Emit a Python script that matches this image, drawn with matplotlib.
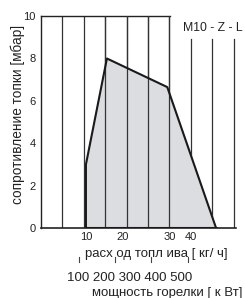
import matplotlib
matplotlib.use("Agg")
import matplotlib.pyplot as plt

plt.rcParams['font.family'] = ['Liberation Sans', 'DejaVu Sans']

# working field of the burner (x in grid units, y in mbar)
field_x = [2.1, 2.1, 3.08, 5.9, 8.18]
field_y = [0, 3.0, 8.0, 6.65, 0]

grid_full = [1, 2, 3, 4, 5, 6]
grid_short = [7, 8, 9]
flow_pos = [2.1, 3.83, 6.03, 7.0]
flow_labels = ["10", "20", "30", "40"]
yticks = [0, 2, 4, 6, 8, 10]
power_tick_pos = [1.78, 3.46, 5.14, 6.87]

fig = plt.figure(figsize=(2.45, 2.98), dpi=100)
ax = fig.add_axes([0.1673, 0.2349, 0.795, 0.711])
ax.set_xlim(0, 9.1)
ax.set_ylim(0, 10)

for x in grid_full:
    ax.plot([x, x], [0, 10], color='#333333', lw=0.9, zorder=1)
for x in grid_short:
    ax.plot([x, x], [0, 8.9], color='#333333', lw=0.9, zorder=1)
ax.plot([0, 6.03], [10, 10], color='#222222', lw=1.0, clip_on=False)
ax.plot([0, 9.1], [0, 0], color='#222222', lw=1.2, clip_on=False)

ax.fill(field_x, field_y, color='#dcdde0', zorder=2)
ax.plot(field_x + [field_x[0]], field_y + [field_y[0]], color='#1a1a1a', lw=1.5, zorder=3)
for x in grid_full[2:]:
    ax.plot([x, x], [0, 10], color='#333333', lw=0.9, zorder=2.5)
ax.plot([field_x[0], field_x[-1]], [0, 0], color='#1a1a1a', lw=2.0, zorder=4)

for s in ['top', 'right', 'bottom']:
    ax.spines[s].set_visible(False)
ax.spines['left'].set_color('#222222')
ax.spines['left'].set_linewidth(1.0)

ax.set_yticks(yticks)
ax.set_xticks(flow_pos)
ax.set_xticklabels(flow_labels)
ax.tick_params(length=0, labelsize=8, colors='#222222', pad=4)
ax.tick_params(axis='x', pad=3)
ax.set_ylabel("сопротивление топки [мбар]", fontsize=9.8, color='#222222', va='center')
ax.yaxis.set_label_coords(-0.121, 0.538)

ax.text(9.4, 9.43, "M10 - Z - L", ha='right', va='center', fontsize=8.8, color='#222222')
ax.text(2.05, -1.23, "расх од топл ива [ кг/ ч]", ha='left', va='center', fontsize=9.5,
        color='#222222', clip_on=False)
for x in power_tick_pos:
    ax.plot([x, x], [-1.35, -1.62], color='#444444', lw=0.8, clip_on=False)
ax.text(1.22, -2.36, "100 200 300 400 500", ha='left', va='center', fontsize=9.5,
        color='#222222', clip_on=False)
ax.text(2.38, -3.05, "мощность горелки [ к Вт]", ha='left', va='center', fontsize=9.5,
        color='#222222', clip_on=False)

fig.savefig("out.png", dpi=100)
